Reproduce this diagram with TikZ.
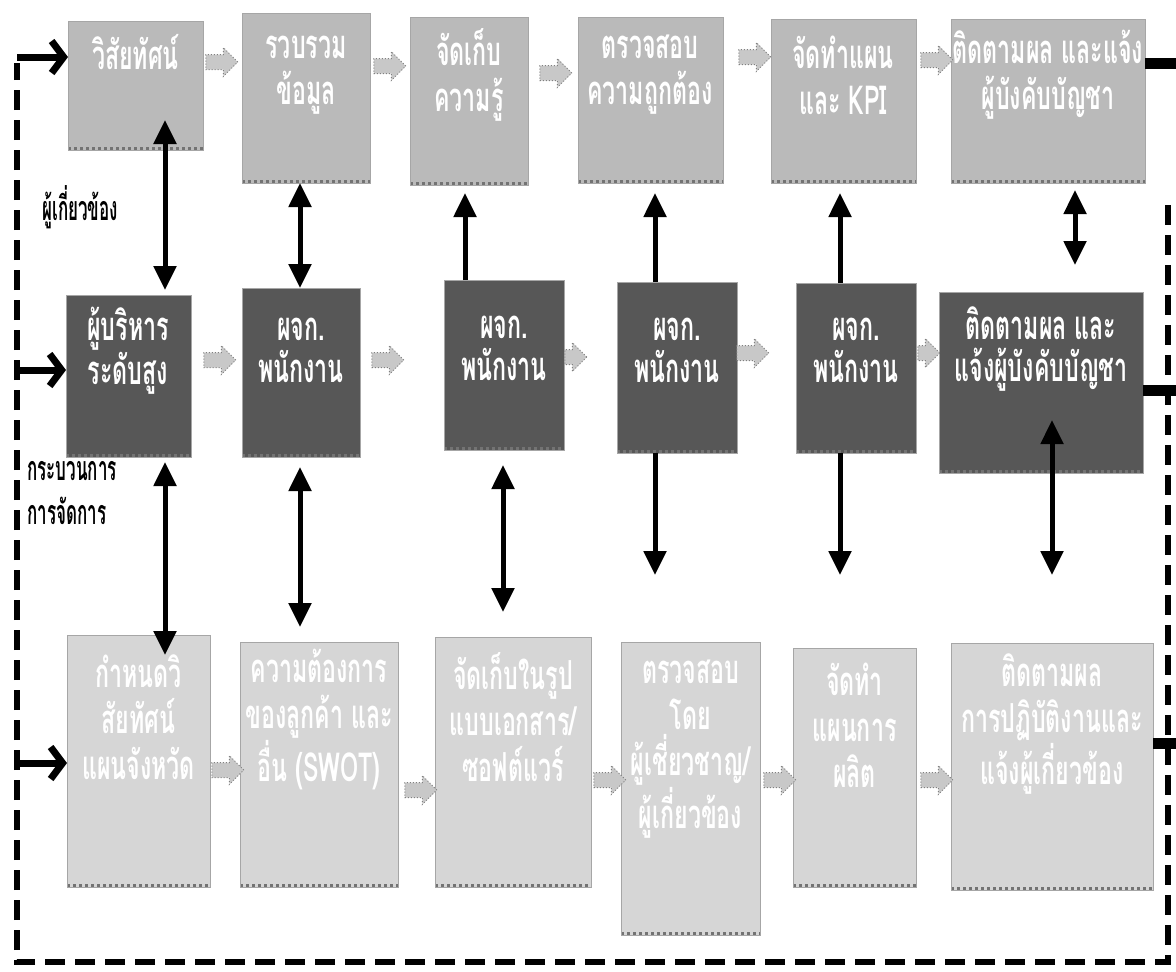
\documentclass[tikz,border=0pt]{standalone}
\usepackage{fontspec}
\newfontfamily\thaif[Script=Thai,FakeStretch=0.58]{Loma}
\newfontfamily\thail[Script=Thai,FakeStretch=0.5]{Loma}
\usetikzlibrary{arrows.meta,shapes.arrows,calc}
\definecolor{topg}{HTML}{BABABA}
\definecolor{midg}{HTML}{575757}
\definecolor{botg}{HTML}{D6D6D6}
\definecolor{arrg}{HTML}{C8C8C8}
\newcommand\mkbox[6]{\node[#6, anchor=north west, minimum width=\fpeval{(#4-#2)/2}pt, minimum height=\fpeval{(#5-#3)/2}pt] (#1) at (#2,#3) {};}
\tikzset{
  boxbase/.style={rectangle, inner sep=0pt, outer sep=0pt, draw=black!35, line width=0.4pt,
    path picture={\draw[line width=3pt, black!55, dash pattern=on 1.5pt off 1.5pt]
      (path picture bounding box.south west) -- (path picture bounding box.south east);}},
  topbox/.style={boxbase, fill=topg},
  midbox/.style={boxbase, fill=midg},
  botbox/.style={boxbase, fill=botg},
  wt/.style={text=white, font=\thaif\bfseries\fontsize{20}{23}\selectfont, align=center, inner sep=0pt},
  wtm/.style={text=white, font=\thaif\bfseries\fontsize{20}{21}\selectfont, align=center, inner sep=0pt},
  lbl/.style={text=black, font=\thail\bfseries\fontsize{17}{20}\selectfont, anchor=west, inner sep=0pt},
  garr/.style={single arrow, fill=arrg, draw=black!50, densely dotted, line width=0.5pt,
    inner xsep=0pt, inner ysep=3.5pt, minimum height=16pt, single arrow head extend=3.5pt},
  dbl/.style={line width=2.5pt, {Triangle[width=11pt,length=12pt]}-{Triangle[width=11pt,length=12pt]}},
  onearr/.style={line width=2.5pt, -{Triangle[width=11pt,length=12pt]}},
  leftarr/.style={line width=3.5pt, -{Straight Barb[length=6pt,width=16pt]}},
  loopline/.style={line width=3pt, dash pattern=on 10pt off 5pt},
  stub/.style={line width=5.5pt},
}
\begin{document}
\begin{tikzpicture}[x=0.5pt,y=-0.5pt]
\fill[white] (0,0) rectangle (1176,971);
\useasboundingbox (0,0) rectangle (1176,971);
% top row
\mkbox{b1}{68}{21}{203}{150}{topbox}
\mkbox{b2}{242}{13}{370}{183}{topbox}
\mkbox{b3}{410}{17}{528}{185}{topbox}
\mkbox{b4}{578}{17}{723}{183}{topbox}
\mkbox{b5}{771}{19}{916}{183}{topbox}
\mkbox{b6}{951}{19}{1145}{183}{topbox}
% middle row
\mkbox{m1}{66}{295}{191}{457}{midbox}
\mkbox{m2}{242}{288}{360}{457}{midbox}
\mkbox{m3}{444}{280}{564}{450}{midbox}
\mkbox{m4}{617}{282}{737}{453}{midbox}
\mkbox{m5}{796}{283}{916}{453}{midbox}
\mkbox{m6}{939}{292}{1143}{473}{midbox}
% bottom row
\mkbox{c1}{67}{635}{210}{887}{botbox}
\mkbox{c2}{240}{642}{398}{887}{botbox}
\mkbox{c3}{435}{637}{591}{887}{botbox}
\mkbox{c4}{621}{642}{760}{935}{botbox}
\mkbox{c5}{793}{648}{916}{887}{botbox}
\mkbox{c6}{951}{643}{1153}{890}{botbox}
% texts
\node[wt] (tb1) at (135.5,52) {วิสัยทัศน์};
\node[wt] (tb2) at (306,75) {รวบรวม\\ข้อมูล};
\node[wt] (tb3) at (469,75) {จัดเก็บ\\ความรู้};
\node[wt] (tb4) at (650,75) {ตรวจสอบ\\ความถูกต้อง};
\node[wt] (tb5) at (843,75) {จัดทำแผน\\และ KPI};
\node[wt] (tb6) at (1048,75) {ติดตามผล และแจ้ง\\ผู้บังคับบัญชา};
\node[wtm] (tm1) at (128,351) {ผู้บริหาร\\ระดับสูง};
\node[wtm] (tm2) at (301,350) {ผจก.\\พนักงาน};
\node[wtm] (tm3) at (504,348) {ผจก.\\พนักงาน};
\node[wtm] (tm4) at (677,350) {ผจก.\\พนักงาน};
\node[wtm] (tm5) at (856,350) {ผจก.\\พนักงาน};
\node[wtm] (tm6) at (1041,349) {ติดตามผล และ\\แจ้งผู้บังคับบัญชา};
\node[wt] (tc1) at (138.5,717) {กำหนดวิ\\สัยทัศน์\\แผนจังหวัด};
\node[wt] (tc2) at (319,719) {ความต้องการ\\ของลูกค้า และ\\อื่น (SWOT)};
\node[wt] (tc3) at (513,717) {จัดเก็บในรูป\\แบบเอกสาร/\\ซอฟต์แวร์};
\node[wt] (tc4) at (690.5,749) {ตรวจสอบ\\โดย\\ผู้เชี่ยวชาญ/\\ผู้เกี่ยวข้อง};
\node[wt] (tc5) at (854.5,725) {จัดทำ\\แผนการ\\ผลิต};
\node[wt] (tc6) at (1052,724) {ติดตามผล\\การปฏิบัติงานและ\\แจ้งผู้เกี่ยวข้อง};
% side labels
\node[lbl] (l1) at (42,207) {ผู้เกี่ยวข้อง};
\node[lbl] (l2) at (27,471) {กระบวนการ};
\node[lbl] (l3) at (27,511) {การจัดการ};
% grey block arrows
\node[garr] (g1) at (218,62) {};
\node[garr] (g2) at (386,66) {};
\node[garr] (g3) at (552,73) {};
\node[garr] (g4) at (751,57) {};
\node[garr] (g5) at (933,60) {};
\node[garr] (h1) at (216,360) {};
\node[garr] (h2) at (384,360) {};
\node[garr, minimum height=11pt] (h3) at (572,357) {};
\node[garr] (h4) at (749,353) {};
\node[garr, minimum height=11pt] (h5) at (925,353) {};
\node[garr] (k1) at (224,770) {};
\node[garr] (k2) at (417,790) {};
\node[garr] (k3) at (606,780) {};
\node[garr] (k4) at (776,780) {};
\node[garr] (k5) at (933,780) {};
% vertical connectors top-middle
\coordinate (a1) at (165,120);
\draw[dbl] (a1) -- ($(a1 |- m1.north)+(0,-5)$);
\coordinate (a2) at (300,0);
\draw[dbl] (a2 |- b2.south) -- (a2 |- m2.north);
\coordinate (a3) at (465,0);
\draw[onearr] (a3 |- m3.north) -- ($(a3 |- b3.south)+(0,8)$);
\coordinate (a4) at (655,0);
\draw[onearr] (a4 |- m4.north) -- ($(a4 |- b4.south)+(0,10)$);
\coordinate (a5) at (840,0);
\draw[onearr] (a5 |- m5.north) -- ($(a5 |- b5.south)+(0,10)$);
\coordinate (a6) at (1075,0);
\draw[dbl] ($(a6 |- b6.south)+(0,7)$) -- ($(a6 |- m6.north)+(0,-27)$);
% vertical connectors middle-bottom
\coordinate (e1) at (165,0);
\draw[dbl] ($(e1 |- m1.south)+(0,5)$) -- ($(e1 |- c1.north)+(0,20)$);
\coordinate (e2) at (300,0);
\draw[dbl] ($(e2 |- m2.south)+(0,10)$) -- ($(e2 |- c2.north)+(0,-15)$);
\coordinate (e3) at (503,0);
\draw[dbl] ($(e3 |- m3.south)+(0,15)$) -- ($(e3 |- c3.north)+(0,-25)$);
\coordinate (e4) at (655,575);
\draw[onearr] (e4 |- m4.south) -- (e4);
\coordinate (e5) at (840,575);
\draw[onearr] (e5 |- m5.south) -- (e5);
\coordinate (e6) at (1052,575);
\coordinate (e6t) at (1052,420);
\draw[dbl] (e6t) -- (e6);
% feedback loop
\coordinate (r0) at (1168,205);
\coordinate (r1) at (1168,962);
\coordinate (r2) at (17,962);
\coordinate (r3) at (17,63);
\draw[loopline] (r0) -- (r1) -- (r2) -- (r3);
\coordinate (s1) at (1176,63);
\coordinate (s2) at (1176,390);
\coordinate (s3) at (1176,743);
\draw[stub] (s1 -| b6.east) -- (s1);
\draw[stub] (s2 -| m6.east) -- (s2);
\draw[stub] (s3 -| c6.east) -- (s3);
\coordinate (p1) at (17,57);
\coordinate (p2) at (17,370);
\coordinate (p3) at (17,763);
\draw[leftarr] (p1) -- (p1 -| b1.west);
\draw[leftarr] (p2) -- (p2 -| m1.west);
\draw[leftarr] (p3) -- (p3 -| c1.west);
\end{tikzpicture}
\end{document}
